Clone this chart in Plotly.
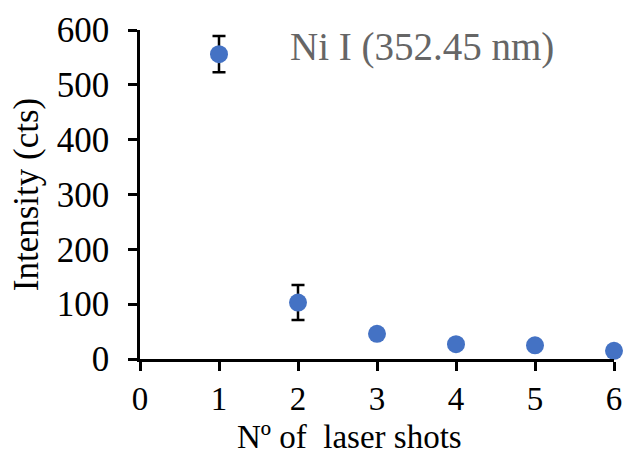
import plotly.graph_objects as go

shots = [1, 2, 3, 4, 5, 6]
intensity = [556, 103, 46, 27, 25, 15]
errors = [33, 32, 4, 3, 3, 2]
x_ticks = [0, 1, 2, 3, 4, 5, 6]
y_ticks = [0, 100, 200, 300, 400, 500, 600]

FONT = "Liberation Serif"

fig = go.Figure()
fig.add_trace(go.Scatter(
    x=shots, y=intensity, mode="markers",
    marker=dict(size=18, color="#4472C4"),
    error_y=dict(type="data", array=errors, visible=True, color="black", thickness=2.5, width=6.5),
    cliponaxis=False, showlegend=False,
))

fig.update_layout(
    width=626, height=456,
    margin=dict(l=140, r=12, t=30, b=97, autoexpand=False),
    paper_bgcolor="white", plot_bgcolor="white",
    font=dict(family=FONT, size=35, color="black"),
    xaxis=dict(range=[0, 6], tickvals=x_ticks, showgrid=False, zeroline=False,
               automargin=False, tickfont=dict(size=33),
               showline=True, linecolor="black", linewidth=2.5,
               ticks="outside", ticklen=9, tickwidth=2.5, tickcolor="black",
               ticklabelstandoff=0),
    yaxis=dict(range=[0, 600], tickvals=y_ticks, showgrid=False, zeroline=False,
               automargin=False,
               showline=True, linecolor="black", linewidth=2.5,
               ticks="outside", ticklen=9, tickwidth=2.5, tickcolor="black",
               ticklabelstandoff=12,
               title=dict(text="Intensity (cts)", font=dict(size=35), standoff=8)),
    annotations=[
        dict(text="Ni I (352.45 nm)", x=0.312, y=0.948, xref="paper", yref="paper",
             xanchor="left", yanchor="middle", showarrow=False,
             font=dict(family=FONT, size=39, color="#666666")),
        dict(text="Nº of  laser shots", x=0.443, y=-0.238, xref="paper", yref="paper",
             xanchor="center", yanchor="middle", showarrow=False, borderpad=0,
             font=dict(family=FONT, size=33, color="black")),
    ],
)

fig.write_html("out.html", config={"displayModeBar": False},
               post_script="document.body.style.margin='0';document.body.style.overflow='hidden';")
